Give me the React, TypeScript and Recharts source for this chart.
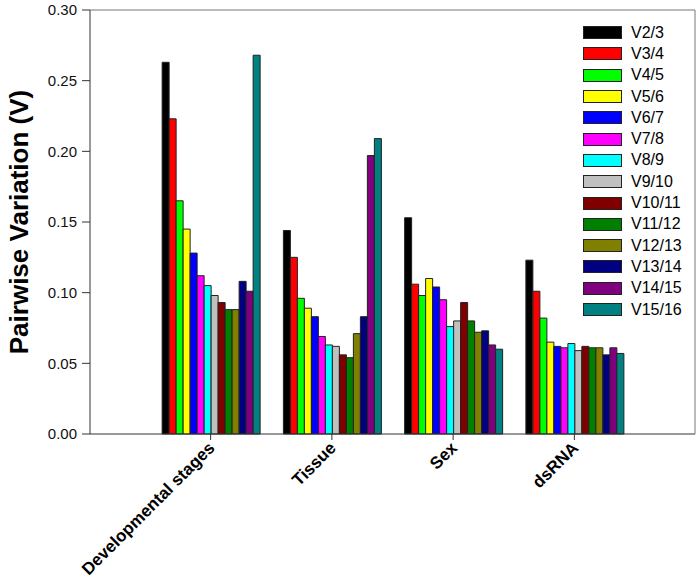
import { BarChart, Bar, XAxis, YAxis, ReferenceLine } from 'recharts'

const categories = ['Developmental stages', 'Tissue', 'Sex', 'dsRNA']
const seriesNames = [
  'V2/3', 'V3/4', 'V4/5', 'V5/6', 'V6/7', 'V7/8', 'V8/9',
  'V9/10', 'V10/11', 'V11/12', 'V12/13', 'V13/14', 'V14/15', 'V15/16',
]
const seriesColors = [
  '#000000', '#ff0000', '#00ff00', '#ffff00', '#0000ff', '#ff00ff', '#00ffff',
  '#c0c0c0', '#800000', '#008000', '#808000', '#000080', '#800080', '#008080',
]

// one array per category, values in series order V2/3 ... V15/16
const developmentalStages = [0.263, 0.223, 0.165, 0.145, 0.128, 0.112, 0.105, 0.098, 0.093, 0.088, 0.088, 0.108, 0.101, 0.268]
const tissue = [0.144, 0.125, 0.096, 0.089, 0.083, 0.069, 0.063, 0.062, 0.056, 0.054, 0.071, 0.083, 0.197, 0.209]
const sex = [0.153, 0.106, 0.098, 0.11, 0.104, 0.095, 0.076, 0.08, 0.093, 0.08, 0.072, 0.073, 0.063, 0.06]
const dsRNA = [0.123, 0.101, 0.082, 0.065, 0.062, 0.061, 0.064, 0.059, 0.062, 0.061, 0.061, 0.056, 0.061, 0.057]

const yTicks = [0, 0.05, 0.1, 0.15, 0.2, 0.25, 0.3]

const valuesByCategory = [developmentalStages, tissue, sex, dsRNA]
const data = categories.map((name, i) => {
  const row: Record<string, any> = { name }
  seriesNames.forEach((s, j) => {
    row[s] = valuesByCategory[i][j]
  })
  return row
})

const FONT = "'Liberation Sans', Arial, sans-serif"

const CategoryTick = ({ x, y, payload }: any) => (
  <g transform={`translate(${x},${y})`}>
    <text
      x={0}
      y={0}
      transform="translate(5,7) rotate(-45)"
      textAnchor="end"
      fontFamily={FONT}
      fontWeight="bold"
      fontSize={17}
      fill="#000"
    >
      {payload.value}
    </text>
  </g>
)

// legend drawn as a plain list so it doesn't eat into the plot area
const LegendList = () => (
  <div
    style={{
      position: 'absolute',
      left: 583,
      top: 22,
      fontFamily: FONT,
      fontSize: 16,
      color: '#000',
    }}
  >
    {seriesNames.map((s, j) => (
      <div key={s} style={{ display: 'flex', alignItems: 'center', height: 21.3 }}>
        <div
          style={{
            width: 37,
            height: 11,
            background: seriesColors[j],
            border: '1px solid #222',
            marginRight: 9,
          }}
        />
        <span>{s}</span>
      </div>
    ))}
  </div>
)

export default function App() {
  return (
    <div style={{ position: 'absolute', left: 0, top: 0, width: 700, height: 582, background: '#fff' }}>
      <BarChart
        width={700}
        height={582}
        data={data}
        margin={{ top: 10, right: 0, bottom: 0, left: 0 }}
        barCategoryGap="10%"
        barGap={0}
      >
        <XAxis
          dataKey="name"
          interval={0}
          padding={{ left: 60, right: 60 }}
          height={148}
          tickSize={6}
          stroke="#333"
          tick={<CategoryTick />}
        />
        <YAxis
          width={90}
          domain={[0, 0.3]}
          ticks={yTicks}
          tickFormatter={(v: number) => v.toFixed(2)}
          tickSize={8}
          tickMargin={5}
          stroke="#333"
          tick={{ fill: '#111', fontSize: 15, fontFamily: FONT }}
          label={{
            value: 'Pairwise Variation (V)',
            angle: -90,
            position: 'center',
            dx: -26,
            style: { fontFamily: FONT, fontWeight: 'bold', fontSize: 26, fill: '#000' },
          }}
        />
        <YAxis
          yAxisId="frame"
          orientation="right"
          width={5}
          domain={[0, 0.3]}
          tick={false}
          tickLine={false}
          stroke="#777"
        />
        <ReferenceLine y={0.3} stroke="#777" strokeWidth={1} />
        {seriesNames.map((s, j) => (
          <Bar
            key={s}
            dataKey={s}
            fill={seriesColors[j]}
            stroke="#222"
            strokeWidth={1}
            isAnimationActive={false}
          />
        ))}
      </BarChart>
      <LegendList />
    </div>
  )
}
